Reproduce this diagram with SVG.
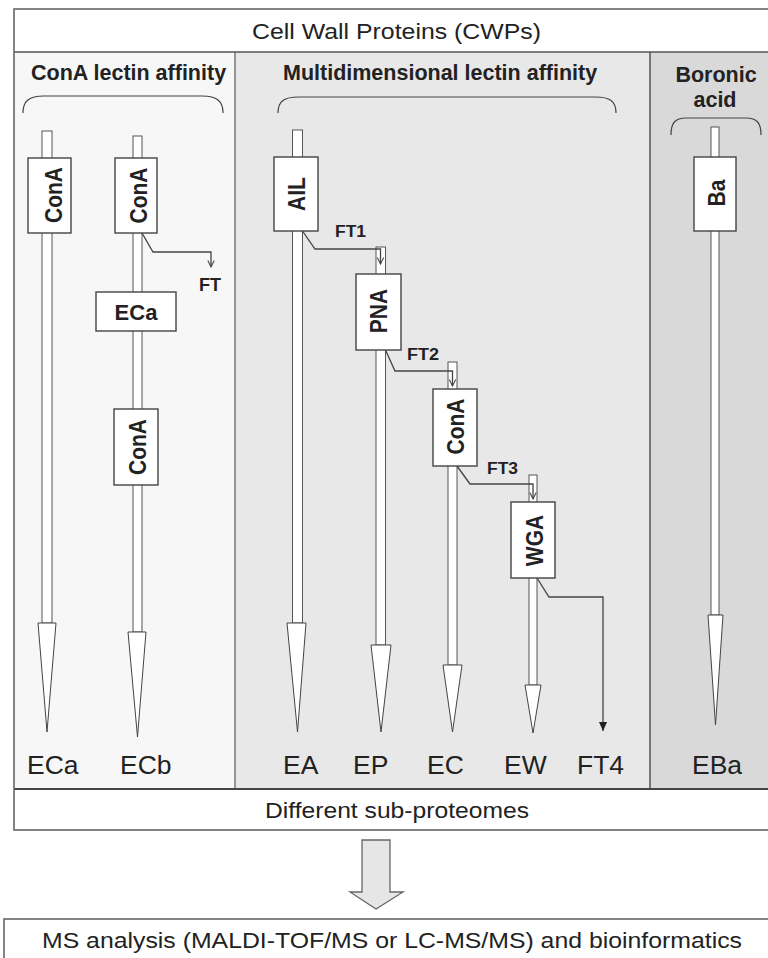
<svg xmlns="http://www.w3.org/2000/svg" width="768" height="958" viewBox="0 0 768 958">
<style>
.tube{fill:#fff;stroke:#555;stroke-width:1}
.tip{fill:#fff;stroke:#444;stroke-width:1}
.box{fill:#fff;stroke:#444;stroke-width:1.4}
.ln{fill:none;stroke:#444;stroke-width:1.3}
.brace{fill:none;stroke:#444;stroke-width:1.2}
.frame{fill:none;stroke:#666;stroke-width:1.6}
.hd{font-family:"Liberation Sans",Arial,sans-serif;font-weight:bold;font-size:21.5px;fill:#222}
.rl{font-family:"Liberation Sans",Arial,sans-serif;font-weight:bold;font-size:21px;fill:#222}
.ft{font-family:"Liberation Sans",Arial,sans-serif;font-weight:bold;font-size:16px;fill:#222}
.lab{font-family:"Liberation Sans",Arial,sans-serif;font-size:26.5px;fill:#222}
.big{font-family:"Liberation Sans",Arial,sans-serif;font-size:22px;fill:#222}
</style>
<defs>
<marker id="openV" viewBox="0 0 10 10" refX="9" refY="5" markerWidth="8" markerHeight="8" markerUnits="userSpaceOnUse" orient="auto">
<path d="M1,1 L9,5 L1,9" fill="none" stroke="#444" stroke-width="1.3"/>
</marker>
<marker id="solid" viewBox="0 0 10 10" refX="10" refY="5" markerWidth="9" markerHeight="9" markerUnits="userSpaceOnUse" orient="auto">
<path d="M0,0.5 L10,5 L0,9.5 z" fill="#222"/>
</marker>
</defs>
<rect width="768" height="958" fill="#fff"/>
<g id="panels">
<rect x="14" y="52" width="221" height="737" fill="#f7f7f7"/>
<rect x="235" y="52" width="415" height="737" fill="#e8e8e8"/>
<rect x="650" y="52" width="130" height="737" fill="#d9d9d9"/>
<line x1="235" y1="52" x2="235" y2="789" stroke="#777" stroke-width="1.5"/>
<line x1="650" y1="52" x2="650" y2="789" stroke="#555" stroke-width="1.5"/>
<line x1="14" y1="52" x2="780" y2="52" stroke="#555" stroke-width="1.6"/>
<line x1="14" y1="789" x2="780" y2="789" stroke="#444" stroke-width="1.8"/>
<rect class="frame" x="14" y="9" width="770" height="821"/>
<rect class="frame" x="4" y="919" width="780" height="50"/>
</g>
<g id="headings">
<text class="big" x="252" y="39" textLength="289" lengthAdjust="spacingAndGlyphs">Cell Wall Proteins (CWPs)</text>
<text class="hd" x="31" y="80">ConA lectin affinity</text>
<text class="hd" x="283" y="80">Multidimensional lectin affinity</text>
<text class="hd" x="716" y="82" text-anchor="middle">Boronic</text>
<text class="hd" x="715" y="107" text-anchor="middle">acid</text>
<path class="brace" d="M23,113 C23,101 29,96 44,96 L202,96 C217,96 223,101 223,113"/>
<path class="brace" d="M278,113 C278,101 284,97 299,97 L595,97 C610,97 616,101 616,113"/>
<path class="brace" d="M671,135 C671,123 675,118 686,118 L746,118 C757,118 761,123 761,135"/>
</g>
<g id="connectors">
<rect class="tube" x="42" y="131" width="10" height="492"/>
<polygon class="tip" points="38,623 56,623 47,732"/>
<rect class="tube" x="133" y="136" width="9" height="496"/>
<polygon class="tip" points="128,632 146,632 137.5,737"/>
<rect class="tube" x="292.5" y="130" width="10" height="493"/>
<polygon class="tip" points="287,623 306,623 297.5,732"/>
<rect class="tube" x="376" y="247" width="9.5" height="398"/>
<polygon class="tip" points="371,645 391,645 381,732"/>
<rect class="tube" x="448" y="362" width="9" height="303"/>
<polygon class="tip" points="443,665 462,665 452.5,732"/>
<rect class="tube" x="529" y="475" width="8" height="210"/>
<polygon class="tip" points="525,685 541,685 533,733"/>
<rect class="tube" x="711" y="127" width="8" height="488"/>
<polygon class="tip" points="708,615 723,615 715.5,725"/>
<path class="ln" d="M142,233 L153,252 L211,252 L211,267" marker-end="url(#openV)"/>
<path class="ln" d="M302.5,231 L315,249 L380.5,249 L380.5,264" marker-end="url(#openV)"/>
<path class="ln" d="M385.5,350 L395,371 L452.5,371 L452.5,386" marker-end="url(#openV)"/>
<path class="ln" d="M457,466 L470,484 L533,484 L533,499" marker-end="url(#openV)"/>
<path class="ln" d="M537,578 L549,597 L603,597 L603,731" marker-end="url(#solid)"/>
</g>
<g id="node-cona1"><rect class="box" x="28" y="158" width="43" height="75"/>
<text class="rl" text-anchor="middle" transform="translate(62,195) scale(1.15,1) rotate(-90)">ConA</text></g>
<g id="node-cona2"><rect class="box" x="115" y="158" width="42" height="75"/>
<text class="rl" text-anchor="middle" transform="translate(147,195.5) scale(1.15,1) rotate(-90)">ConA</text></g>
<g id="node-eca"><rect class="box" x="96" y="292" width="80" height="39"/>
<text class="rl" x="136" y="320" text-anchor="middle" style="font-size:22px">ECa</text></g>
<g id="node-cona2b"><rect class="box" x="114" y="409" width="44" height="76"/>
<text class="rl" text-anchor="middle" transform="translate(146,447) scale(1.15,1) rotate(-90)">ConA</text></g>
<g id="node-ail"><rect class="box" x="274" y="157" width="44" height="74"/>
<text class="rl" text-anchor="middle" transform="translate(305,194) scale(1.15,1) rotate(-90)">AIL</text></g>
<g id="node-pna"><rect class="box" x="356" y="274" width="45" height="76"/>
<text class="rl" text-anchor="middle" transform="translate(387,311) scale(1.15,1) rotate(-90)">PNA</text></g>
<g id="node-cona3"><rect class="box" x="433" y="389" width="44" height="77"/>
<text class="rl" text-anchor="middle" transform="translate(464,426.5) scale(1.15,1) rotate(-90)">ConA</text></g>
<g id="node-wga"><rect class="box" x="511" y="502" width="44" height="76"/>
<text class="rl" text-anchor="middle" transform="translate(543,540.5) scale(1.15,1) rotate(-90)">WGA</text></g>
<g id="node-ba"><rect class="box" x="694" y="157" width="42" height="74"/>
<text class="rl" text-anchor="middle" transform="translate(725,193) scale(1.15,1) rotate(-90)">Ba</text></g>
<g id="ft-labels">
<text class="ft" x="199" y="291" style="font-size:18px">FT</text>
<text class="ft" x="335" y="237" textLength="31" lengthAdjust="spacingAndGlyphs">FT1</text>
<text class="ft" x="407" y="360" textLength="32" lengthAdjust="spacingAndGlyphs">FT2</text>
<text class="ft" x="487" y="474" textLength="31" lengthAdjust="spacingAndGlyphs">FT3</text>
</g>
<g id="fractions">
<text class="lab" x="27" y="774">ECa</text>
<text class="lab" x="120" y="774">ECb</text>
<text class="lab" x="283" y="774">EA</text>
<text class="lab" x="353" y="774">EP</text>
<text class="lab" x="427" y="774">EC</text>
<text class="lab" x="504" y="774">EW</text>
<text class="lab" x="577" y="774">FT4</text>
<text class="lab" x="692" y="774">EBa</text>
</g>
<g id="node-subproteomes">
<text class="big" x="265" y="818" textLength="264" lengthAdjust="spacingAndGlyphs">Different sub-proteomes</text>
</g>
<g id="big-arrow">
<polygon points="362,840 390,840 390,892 403,892 376,909 350,892 362,892" fill="#e6e6e6" stroke="#666" stroke-width="1.3"/>
</g>
<g id="node-ms">
<text class="big" x="42" y="948" textLength="700" lengthAdjust="spacingAndGlyphs">MS analysis (MALDI-TOF/MS or LC-MS/MS) and bioinformatics</text>
</g>
</svg>
